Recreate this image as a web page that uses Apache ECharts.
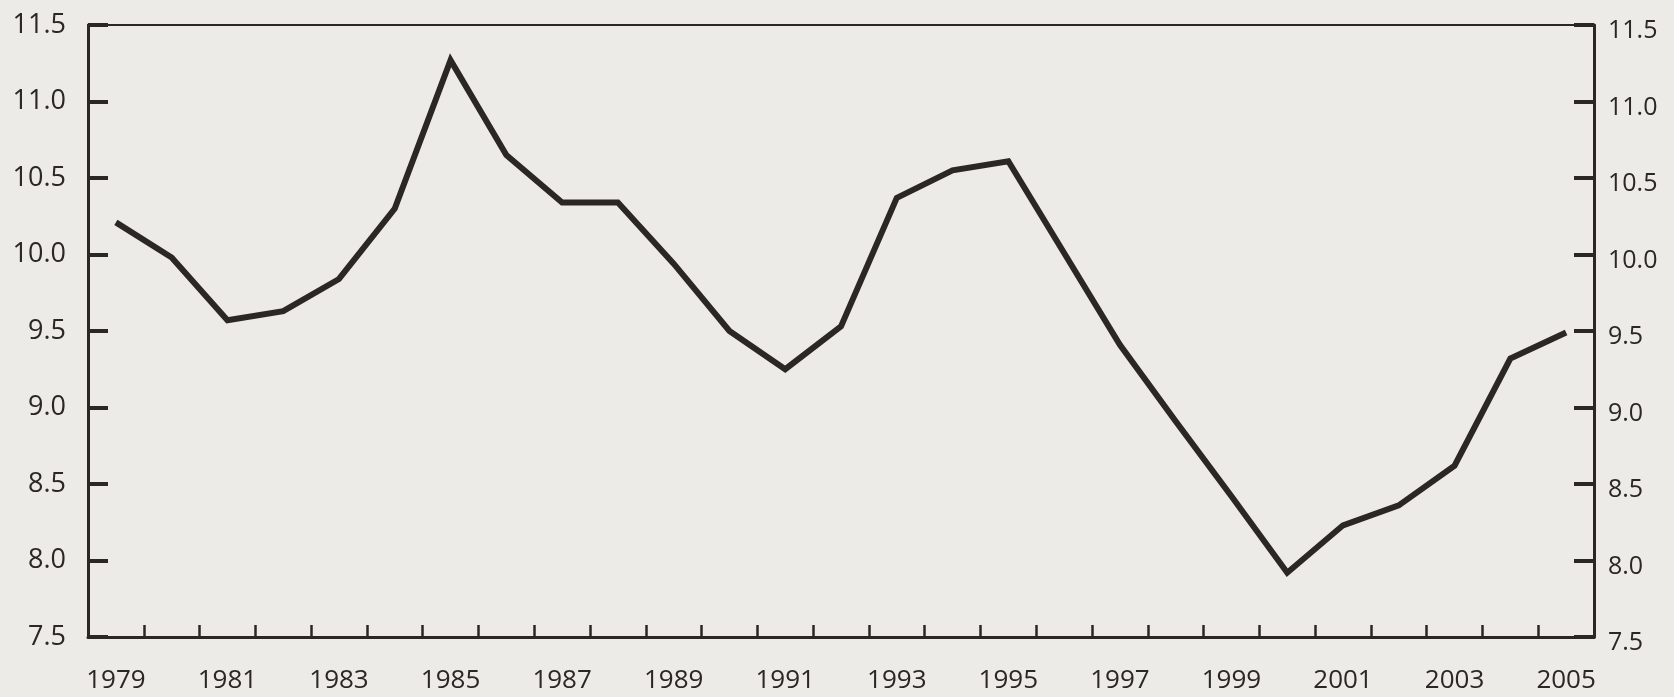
<!DOCTYPE html>
<html>
<head>
<meta charset="utf-8">
<script src="https://cdn.jsdelivr.net/npm/echarts@6/dist/echarts.min.js"></script>
<style>
html,body{margin:0;padding:0;background:#ecebe7;}
#chart{width:1674px;height:697px;}
</style>
</head>
<body>
<div id="chart"></div>
<script>
const years = ['1979','1980','1981','1982','1983','1984','1985','1986','1987','1988','1989','1990','1991','1992','1993','1994','1995','1996','1997','1998','1999','2000','2001','2002','2003','2004','2005'];
const values = [10.21, 9.98, 9.57, 9.63, 9.84, 10.30, 11.27, 10.65, 10.34, 10.34, 9.94, 9.50, 9.25, 9.53, 10.37, 10.55, 10.61, 10.01, 9.41, 8.91, 8.42, 7.92, 8.23, 8.36, 8.62, 9.32, 9.49];
const yMin = 7.5, yMax = 11.5, yStep = 0.5;

const ink = '#2a2725';
const font = '"Open Sans", "Noto Sans", sans-serif';
const chart = echarts.init(document.getElementById('chart'));
chart.setOption({
  backgroundColor: '#ecebe7',
  animation: false,
  grid: {left: 88, right: 80, top: 25, bottom: 60, show: false},
  xAxis: [{
    type: 'category',
    data: years,
    position: 'bottom',
    boundaryGap: true,
    axisLine: {show: true, lineStyle: {color: ink, width: 3}},
    axisTick: {show: true, inside: true, length: 12, interval: 0, lineStyle: {color: ink, width: 2.5}},
    axisLabel: {show: true, interval: 1, color: ink, fontFamily: font, fontSize: 26, margin: 31},
    splitLine: {show: false}
  }, {
    type: 'category',
    data: years,
    position: 'top',
    boundaryGap: true,
    axisLine: {show: true, lineStyle: {color: ink, width: 2}},
    axisTick: {show: false},
    axisLabel: {show: false},
    splitLine: {show: false}
  }],
  yAxis: [{
    type: 'value', min: yMin, max: yMax, interval: yStep, position: 'left',
    axisLine: {show: true, lineStyle: {color: ink, width: 3}},
    axisTick: {show: true, inside: true, length: 20, lineStyle: {color: ink, width: 4}},
    axisLabel: {color: ink, fontFamily: font, fontSize: 27, margin: 22, formatter: v => v.toFixed(1)},
    splitLine: {show: false}
  }, {
    type: 'value', min: yMin, max: yMax, interval: yStep, position: 'right',
    axisLine: {show: true, lineStyle: {color: ink, width: 3}},
    axisTick: {show: true, inside: true, length: 20, lineStyle: {color: ink, width: 4}},
    axisLabel: {color: ink, fontFamily: font, fontSize: 25, margin: 14, verticalAlign: 'top', lineHeight: 12, formatter: v => v.toFixed(1)},
    splitLine: {show: false}
  }],
  series: [{
    type: 'line',
    data: values,
    xAxisIndex: 0,
    yAxisIndex: 0,
    symbol: 'none',
    lineStyle: {color: ink, width: 6, join: 'miter'},
    silent: true
  }]
});
</script>
</body>
</html>
